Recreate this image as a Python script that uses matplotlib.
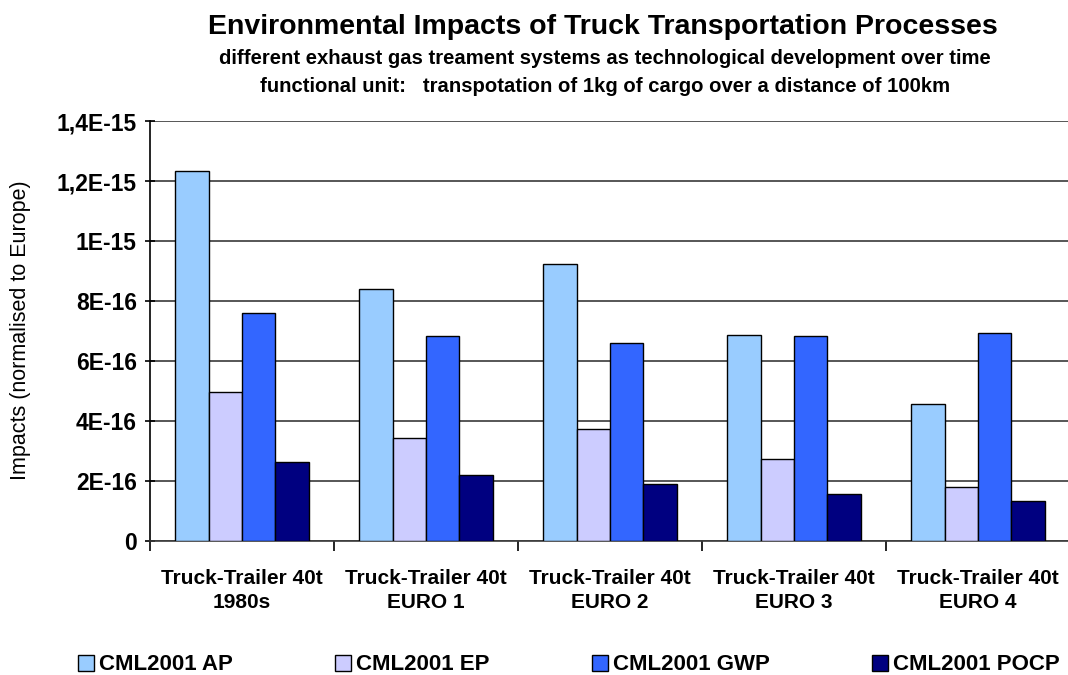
import matplotlib
matplotlib.use("Agg")
import matplotlib.pyplot as plt
import numpy as np

plt.rcParams['font.family'] = ['Liberation Sans', 'DejaVu Sans']
plt.rcParams['font.weight'] = 'bold'

categories = ["Truck-Trailer 40t\n1980s", "Truck-Trailer 40t\nEURO 1", "Truck-Trailer 40t\nEURO 2",
              "Truck-Trailer 40t\nEURO 3", "Truck-Trailer 40t\nEURO 4"]
series_names = ["CML2001 AP", "CML2001 EP", "CML2001 GWP", "CML2001 POCP"]
ap   = [1.233e-15, 0.840e-15, 0.922e-15, 0.686e-15, 0.456e-15]
ep   = [0.498e-15, 0.342e-15, 0.373e-15, 0.274e-15, 0.181e-15]
gwp  = [0.761e-15, 0.684e-15, 0.661e-15, 0.684e-15, 0.692e-15]
pocp = [0.264e-15, 0.219e-15, 0.189e-15, 0.158e-15, 0.133e-15]
yticks = [0, 2e-16, 4e-16, 6e-16, 8e-16, 1e-15, 1.2e-15, 1.4e-15]
ytick_labels = ["0", "2E-16", "4E-16", "6E-16", "8E-16", "1E-15", "1,2E-15", "1,4E-15"]
colors = ["#99CCFF", "#CCCCFF", "#3366FF", "#000080"]

W, H = 1068, 675
fig = plt.figure(figsize=(W / 100, H / 100), dpi=100)
ax = fig.add_axes([150 / W, 1 - 541 / H, 920 / W, 420 / H])

x = np.arange(len(categories))
bw = 1 / 5.5
bars = []
for i, (vals, c, name) in enumerate(zip([ap, ep, gwp, pocp], colors, series_names)):
    b = ax.bar(x + (i - 1.5) * bw, vals, bw, color=c, edgecolor="black", linewidth=1.0,
               label=name, zorder=3)
    bars.append(b)

ax.set_xlim(-0.5, len(categories) - 0.5)
ax.set_ylim(0, 1.4e-15)
ax.set_yticks(yticks)
ax.set_yticklabels(ytick_labels, fontsize=16.5)
ax.yaxis.grid(True, color="#3a3a3a", linewidth=1.2, zorder=0)
ax.set_axisbelow(True)

ax.set_xticks(x)
ax.set_xticklabels(categories, fontsize=15, linespacing=1.35)
ax.set_xticks(np.arange(-0.5, len(categories)), minor=True)
ax.tick_params(axis="x", which="major", length=0, pad=20)
ax.tick_params(axis="x", which="minor", length=7, width=1.2, direction="out")
ax.tick_params(axis="y", length=7, width=1.2, direction="inout", pad=6)

for s in ["top", "right"]:
    ax.spines[s].set_visible(False)
ax.spines["left"].set_linewidth(1.2)
ax.spines["bottom"].set_linewidth(1.2)
ax.spines["bottom"].set_color("#3a3a3a")

fig.text(603 / W, 1 - 27 / H, "Environmental Impacts of Truck Transportation Processes",
         ha="center", va="center", fontsize=20.5, fontweight="bold")
fig.text(605 / W, 1 - 58 / H,
         "different exhaust gas treament systems as technological development over time",
         ha="center", va="center", fontsize=14.6, fontweight="bold")
fig.text(605 / W, 1 - 87 / H,
         "functional unit:   transpotation of 1kg of cargo over a distance of 100km",
         ha="center", va="center", fontsize=14.6, fontweight="bold")

fig.text(21 / W, 1 - 330 / H, "Impacts (normalised to Europe)", rotation=90,
         ha="center", va="center", fontsize=15.5, fontweight="normal")

fig.legend(handles=bars, labels=series_names, loc="center left",
           bbox_to_anchor=(78 / W, 1 - 665 / H), ncol=4, frameon=False,
           fontsize=16, handlelength=0.7, handleheight=0.7, handletextpad=0.25,
           columnspacing=4.6, borderpad=0, borderaxespad=0)

fig.savefig("out.png", dpi=100)
